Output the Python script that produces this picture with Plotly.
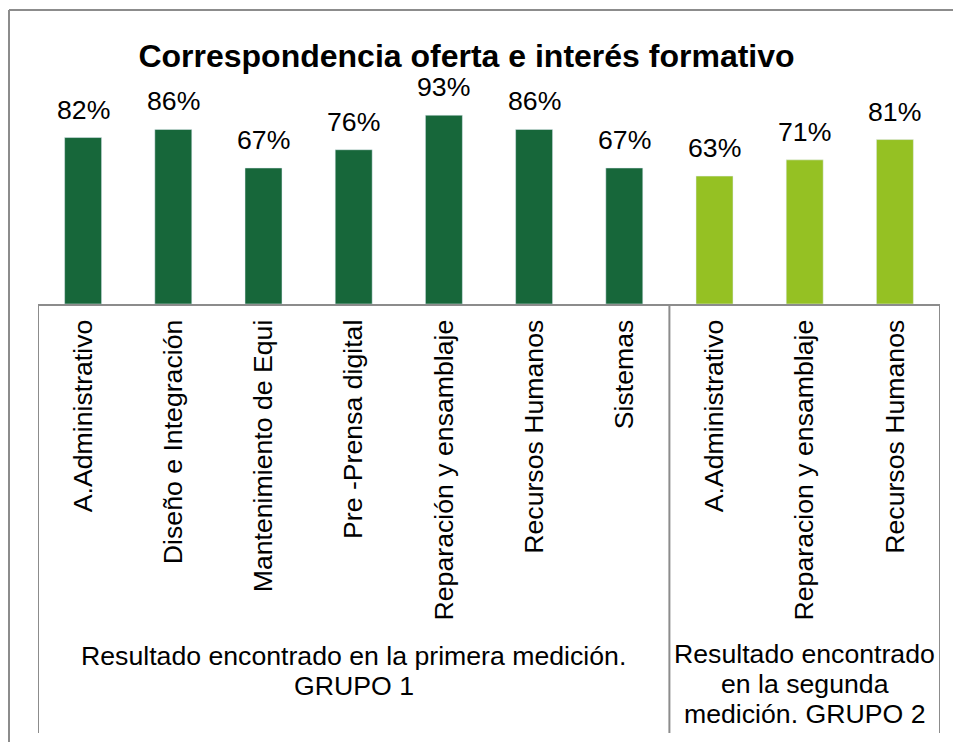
import plotly.graph_objects as go

# ---- data ----
categories = ["A.Administrativo", "Diseño e Integración", "Mantenimiento de Equi",
              "Pre -Prensa digital", "Reparación y ensamblaje", "Recursos Humanos",
              "Sistemas", "A.Administrativo", "Reparacion y ensamblaje", "Recursos Humanos"]
values = [82, 86, 67, 76, 93, 86, 67, 63, 71, 81]
group_sizes = [7, 3]
group_labels = [
    ["Resultado encontrado en la primera medición.", "GRUPO 1"],
    ["Resultado encontrado", "en la segunda", "medición. GRUPO 2"],
]
group_colors = ["#17673A", "#95C123"]
title = "Correspondencia oferta e interés formativo"

# ---- layout constants ----
W, H = 953, 742
ML, MR, MT, MB = 38, 13, 101, 438
PH = H - MT - MB
PW = W - ML - MR
FONT = "Liberation Sans, Arial, sans-serif"
GRAY = "#8C8C8C"
LINE_GAP = 30


def py(p):  # pixel y -> paper y
    return (H - MB - p) / PH


def px(p):  # pixel x -> paper x
    return (p - ML) / PW


xs = list(range(len(categories)))
colors = []
for g, n in enumerate(group_sizes):
    colors += [group_colors[g]] * n

fig = go.Figure()
fig.add_trace(go.Bar(x=xs, y=values, marker_color=colors, width=0.41,
                     hoverinfo="skip", showlegend=False))

annotations = []
for x, v in zip(xs, values):
    annotations.append(dict(x=x, y=v, xref="x", yref="y", text=f"{v}%", showarrow=False,
                            yanchor="bottom", yshift=11,
                            font=dict(family=FONT, size=26.67, color="#000000")))

shapes = []
start = 0
boundaries = [-0.5]
for g, n in enumerate(group_sizes):
    center = start + (n - 1) / 2
    nl = len(group_labels[g])
    mid = 657 + 27 * (nl - 1) / 2
    for k, line in enumerate(group_labels[g]):
        ypix = mid + LINE_GAP * (k - (nl - 1) / 2)
        annotations.append(dict(x=center, y=py(ypix), xref="x", yref="paper",
                                text=line, showarrow=False, yanchor="middle",
                                font=dict(family=FONT, size=26.67, color="#000000")))
    start += n
    boundaries.append(start - 0.5)

for b in boundaries:
    shapes.append(dict(type="line", xref="x", yref="paper", x0=b, x1=b, y0=0, y1=py(733),
                       line=dict(color=GRAY, width=2)))

# outer frame (top and left)
shapes.append(dict(type="line", xref="paper", yref="paper", x0=px(9), x1=px(W + 5),
                   y0=py(10), y1=py(10), line=dict(color=GRAY, width=2)))
shapes.append(dict(type="line", xref="paper", yref="paper", x0=px(9), x1=px(9),
                   y0=py(10), y1=py(H + 5), line=dict(color=GRAY, width=2)))

fig.update_layout(
    width=W, height=H,
    margin=dict(l=ML, r=MR, t=MT, b=MB, pad=0),
    paper_bgcolor="white", plot_bgcolor="white",
    title=dict(text=f"<b>{title}</b>", x=466.5 / W, xanchor="center",
               y=1 - 56 / H, yanchor="middle",
               font=dict(family=FONT, size=32, color="#000000")),
    xaxis=dict(range=[-0.5, len(categories) - 0.5], tickvals=xs, ticktext=categories,
               tickangle=-90, showgrid=False, zeroline=False, showline=True,
               linecolor=GRAY, linewidth=2, ticks="", ticklabelstandoff=3,
               tickfont=dict(family=FONT, size=26.67, color="#000000")),
    yaxis=dict(range=[0, 100], visible=False, showgrid=False, zeroline=False),
    annotations=annotations,
    shapes=shapes,
    bargap=0.59,
)

fig.write_html("out.html", config={"displayModeBar": False})
with open("out.html", encoding="utf-8") as f:
    html = f.read()
html = html.replace("<head>", "<head><style>html,body{margin:0;padding:0;overflow:hidden;}</style>", 1)
with open("out.html", "w", encoding="utf-8") as f:
    f.write(html)
